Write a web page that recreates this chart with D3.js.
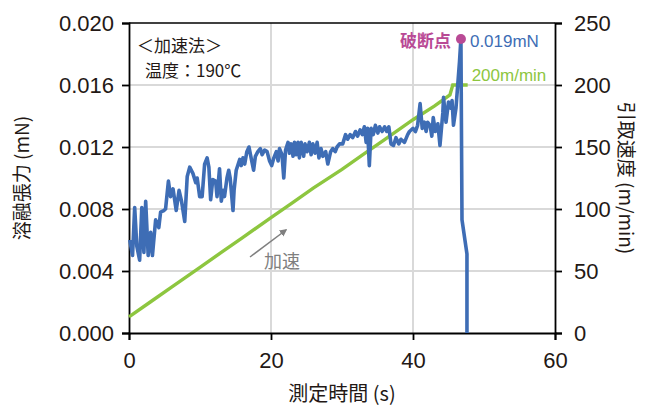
<!DOCTYPE html>
<html>
<head>
<meta charset="utf-8" />
<title>溶融張力</title>
<script src="https://cdn.jsdelivr.net/npm/d3@7"></script>
<style>
	body { margin: 0; background: #fff; }
	svg text { font-family: "Liberation Sans", Arial, sans-serif; }
	.jp { font-family: "Noto Sans CJK JP", sans-serif; }
</style>
</head>
<body>
<svg width="646" height="407"></svg>
<script>
// 溶融張力 (mN) の時系列 [秒, mN]
const tension = [
	[0.1,0.0060],[0.5,0.0050],[0.8,0.0081],[1.1,0.0056],[1.5,0.0047],[1.8,0.0081],[2.1,0.0052],
	[2.35,0.0085],[2.7,0.0050],[3.05,0.0065],[3.3,0.0050],[3.75,0.0073],[4.2,0.0068],[4.45,0.0078],
	[4.9,0.0079],[5.15,0.0080],[5.55,0.0098],[5.85,0.0088],[6.2,0.0093],[6.65,0.0079],[7.05,0.0092],
	[7.4,0.0085],[7.85,0.0072],[8.2,0.0101],[8.55,0.0107],[9.0,0.0103],[9.4,0.0097],[9.6,0.0100],
	[9.95,0.0088],[10.3,0.0088],[10.65,0.0109],[11.0,0.0113],[11.25,0.0107],[11.5,0.0086],[11.8,0.0099],
	[12.2,0.0098],[12.4,0.0088],[12.75,0.0106],[13.0,0.0085],[13.25,0.0092],[13.45,0.0088],[13.8,0.0100],
	[14.05,0.0105],[14.25,0.0100],[14.65,0.0079],[14.8,0.0092],[15.1,0.0105],[15.6,0.0112],[15.8,0.0108],
	[16.05,0.0113],[16.3,0.0109],[16.6,0.0117],[16.9,0.0120],[17.2,0.0113],[17.55,0.0105],[17.8,0.0114],
	[18.15,0.0117],[18.5,0.0119],[18.75,0.0115],[19.1,0.0118],[19.45,0.0117],[19.8,0.0111],[20.1,0.0108],
	[20.4,0.0113],[20.75,0.0117],[21.0,0.0111],[21.2,0.0119],[21.55,0.0115],[21.8,0.0100],[22.05,0.0118],
	[22.4,0.0123],[22.6,0.0116],[22.85,0.0122],[23.1,0.0114],[23.3,0.0123],[23.55,0.0115],[23.8,0.0123],
	[24.0,0.0113],[24.25,0.0123],[24.6,0.0114],[24.8,0.0122],[25.1,0.0117],[25.4,0.0123],[25.65,0.0115],
	[25.9,0.0122],[26.2,0.0116],[26.5,0.0123],[26.75,0.0113],[27.05,0.0119],[27.3,0.0114],[27.7,0.0117],
	[28.0,0.0109],[28.4,0.0117],[28.7,0.0119],[29.05,0.0117],[29.3,0.0120],[29.65,0.0122],[30.1,0.0122],
	[30.5,0.0128],[30.8,0.0125],[31.15,0.0128],[31.5,0.0126],[31.9,0.0130],[32.2,0.0127],[32.55,0.0131],
	[32.85,0.0128],[33.15,0.0133],[33.4,0.0123],[33.6,0.0132],[33.85,0.0108],[34.1,0.0132],[34.4,0.0128],
	[34.7,0.0134],[35.05,0.0129],[35.3,0.0133],[35.65,0.0130],[36.0,0.0133],[36.3,0.0130],[36.6,0.0133],
	[36.9,0.0122],[37.25,0.0121],[37.6,0.0126],[38.0,0.0122],[38.3,0.0125],[38.8,0.0123],[39.25,0.0128],
	[39.5,0.0130],[40.0,0.0132],[40.35,0.0130],[40.65,0.0134],[41.0,0.0148],[41.3,0.0132],[41.6,0.0136],
	[41.85,0.0130],[42.05,0.0136],[42.4,0.0134],[42.65,0.0127],[42.85,0.0139],[43.15,0.0130],[43.5,0.0135],
	[43.8,0.0121],[44.2,0.0142],[44.3,0.0152],[44.65,0.0136],[45.0,0.0149],[45.35,0.0145],[45.5,0.0150],
	[45.7,0.0134],[46.05,0.0145],[46.3,0.0160],[46.55,0.0175],[46.75,0.0190],[46.9,0.0073],[47.6,0.0051],
	[47.6,0.0000]
];

// 引取速度 (m/min) [秒, m/min]
const speed = [
	[0,13],[3,25],[6,37],[10,53],[13,65],[16,77],[20,93],[23,105],[26,117],[30,132],
	[33,144],[36,156],[40,172],[43,183],[45.2,192],[45.6,200],[47.7,200]
];

const breakPoint = [46.75, 0.019];
const leftTicks = [0, 0.004, 0.008, 0.012, 0.016, 0.020];
const rightTicks = [0, 50, 100, 150, 200, 250];
const xTicks = [0, 20, 40, 60];

const svg = d3.select('svg');
const pL = 129, pR = 555, pT = 23, pB = 333;

const x = d3.scaleLinear().domain([0, 60]).range([pL, pR]);
const yL = d3.scaleLinear().domain([0, 0.020]).range([pB, pT]);
const yR = d3.scaleLinear().domain([0, 250]).range([pB, pT]);

// グリッド
svg.append('g').selectAll('line.h')
	.data(leftTicks.slice(1, -1)).enter()
	.append('line')
	.attr('x1', pL).attr('x2', pR)
	.attr('y1', d => yL(d)).attr('y2', d => yL(d))
	.style('stroke', '#d9d9d9').style('stroke-width', 2);
svg.append('g').selectAll('line.v')
	.data([20, 40]).enter()
	.append('line')
	.attr('x1', d => x(d)).attr('x2', d => x(d))
	.attr('y1', pT).attr('y2', pB)
	.style('stroke', '#d9d9d9').style('stroke-width', 2);

// 上の枠線
svg.append('line')
	.attr('x1', pL).attr('x2', pR).attr('y1', pT).attr('y2', pT)
	.style('stroke', '#000').style('stroke-width', 1.5);

// 軸
const yAxisL = d3.axisLeft(yL).tickValues(leftTicks).tickFormat(d3.format('.3f')).tickSize(7).tickPadding(8);
const yAxisR = d3.axisRight(yR).tickValues(rightTicks).tickSize(7).tickPadding(12);
const xAxis = d3.axisBottom(x).tickValues(xTicks).tickSize(7).tickPadding(12);

svg.append('g').attr('transform', 'translate(' + pL + ',0)').call(yAxisL);
svg.append('g').attr('transform', 'translate(' + pR + ',0)').call(yAxisR);
svg.append('g').attr('transform', 'translate(0,' + pB + ')').call(xAxis);

svg.selectAll('.domain, .tick line').style('stroke', '#000').style('stroke-width', 1.8);
svg.selectAll('.tick text').style('font-size', '22px').style('fill', '#231815')
	.style('font-family', '"Liberation Sans", Arial, sans-serif');

// 線
const lineL = d3.line().x(d => x(d[0])).y(d => yL(d[1]));
const lineR = d3.line().x(d => x(d[0])).y(d => yR(d[1]));

svg.append('path').datum(speed)
	.attr('d', lineR)
	.style('fill', 'none').style('stroke', '#8dc63f').style('stroke-width', 3.4);

svg.append('path').datum(tension)
	.attr('d', lineL)
	.style('fill', 'none').style('stroke', '#3e6db5').style('stroke-width', 3.6)
	.style('stroke-linejoin', 'round');

svg.append('circle')
	.attr('cx', x(breakPoint[0])).attr('cy', yL(breakPoint[1]) + 0.5).attr('r', 5)
	.style('fill', '#b94a95');

// 注記
svg.append('text').attr('class', 'jp')
	.attr('x', x(breakPoint[0]) - 10).attr('y', yL(breakPoint[1]) + 8)
	.attr('text-anchor', 'end')
	.style('font-size', '17px').style('fill', '#b94a95').style('font-weight', 'bold')
	.text('破断点');
svg.append('text')
	.attr('x', x(breakPoint[0]) + 9).attr('y', yL(breakPoint[1]) + 8)
	.style('font-size', '17px').style('fill', '#3e6db5')
	.text('0.019mN');
svg.append('text')
	.attr('x', x(47.7) + 4).attr('y', yR(200) - 4)
	.style('font-size', '17px').style('fill', '#8dc63f')
	.text('200m/min');

svg.append('text').attr('class', 'jp')
	.attr('x', 137).attr('y', 52)
	.style('font-size', '17px').style('fill', '#231815')
	.text('＜加速法＞');
svg.append('text').attr('class', 'jp')
	.attr('x', 145).attr('y', 77)
	.style('font-size', '17px').style('fill', '#231815')
	.text('温度：190℃');

// 加速の矢印
svg.append('defs').append('marker')
	.attr('id', 'arr').attr('viewBox', '0 0 10 10').attr('refX', 8).attr('refY', 5)
	.attr('markerWidth', 5).attr('markerHeight', 5).attr('orient', 'auto')
	.append('path').attr('d', 'M0,0 L10,5 L0,10 z').style('fill', '#7f7f7f');
svg.append('line')
	.attr('x1', 250).attr('y1', 257).attr('x2', 286).attr('y2', 230)
	.style('stroke', '#7f7f7f').style('stroke-width', 1.5)
	.attr('marker-end', 'url(#arr)');
svg.append('text').attr('class', 'jp')
	.attr('x', 264).attr('y', 268)
	.style('font-size', '18px').style('fill', '#7f7f7f')
	.text('加速');

// 軸タイトル
svg.append('text').attr('class', 'jp')
	.attr('transform', 'translate(29,' + (pT + pB) / 2 + ') rotate(-90)')
	.attr('text-anchor', 'middle')
	.style('font-size', '19px').style('fill', '#231815')
	.text('溶融張力 (mN)');
svg.append('text').attr('class', 'jp')
	.attr('transform', 'translate(619,' + (pT + pB) / 2 + ') rotate(90)')
	.attr('text-anchor', 'middle')
	.style('font-size', '19px').style('fill', '#231815')
	.text('引取速度 (m/min)');
svg.append('text').attr('class', 'jp')
	.attr('x', (pL + pR) / 2).attr('y', 401)
	.attr('text-anchor', 'middle')
	.style('font-size', '20px').style('fill', '#231815')
	.text('測定時間 (s)');
</script>
</body>
</html>
